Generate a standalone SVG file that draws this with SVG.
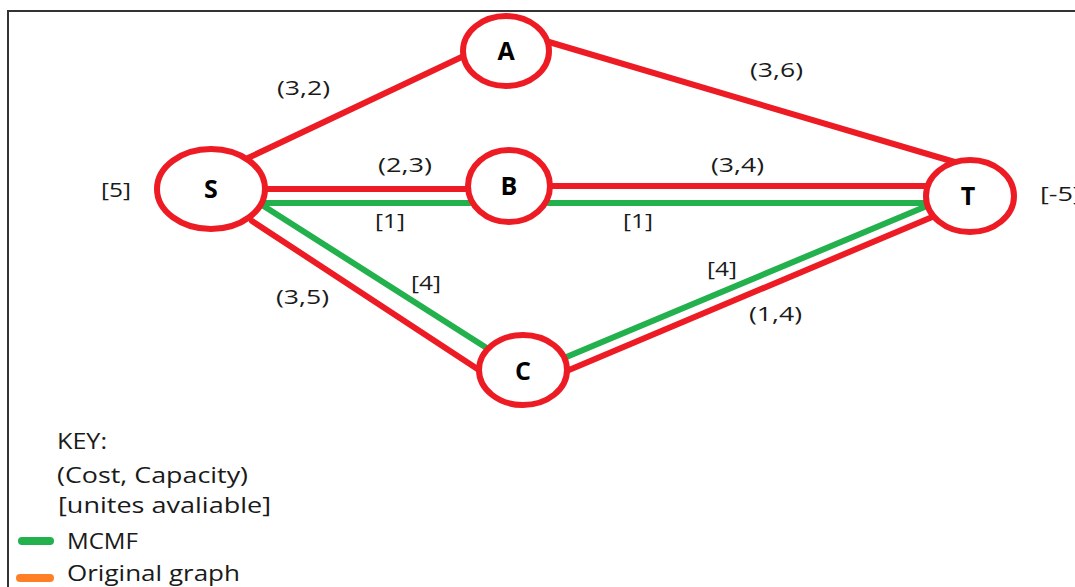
<svg xmlns="http://www.w3.org/2000/svg" width="1075" height="587" viewBox="0 0 1075 587">
<style>
.red{stroke:#ed1c24;stroke-width:6;fill:none;stroke-linecap:round}
.grn{stroke:#22b14c;stroke-width:6;fill:none;stroke-linecap:round}
.node{fill:#fff;stroke:#ed1c24;stroke-width:6}
.nl{font-family:"Open Sans","DejaVu Sans",sans-serif;font-weight:bold;font-size:25px;fill:#000;text-anchor:middle}
.lbl{font-family:"Open Sans","DejaVu Sans",sans-serif;font-size:20px;fill:#1a1a1a}
.key{font-family:"Open Sans","DejaVu Sans",sans-serif;font-size:22px;fill:#1a1a1a}
</style>
<rect x="0" y="0" width="1075" height="587" fill="#fff"/>
<path d="M8,590 V11 H1080" fill="none" stroke="#333" stroke-width="2"/>
<g id="connectors">
<line class="red" x1="248" y1="158" x2="468" y2="54"/>
<line class="red" x1="549" y1="42" x2="958" y2="163"/>
<line class="red" x1="264" y1="189" x2="468" y2="189"/>
<line class="red" x1="550" y1="186" x2="928" y2="186"/>
<line class="grn" x1="262" y1="203" x2="470" y2="203"/>
<line class="grn" x1="548" y1="203" x2="934" y2="203"/>
<line class="red" x1="252" y1="221" x2="479" y2="370"/>
<line class="grn" x1="262" y1="205" x2="493" y2="352"/>
<line class="grn" x1="564" y1="358" x2="934" y2="203"/>
<line class="red" x1="569" y1="370" x2="937" y2="215"/>
</g>
<g id="node-S"><ellipse class="node" cx="211" cy="189" rx="54" ry="40"/><text class="nl" x="211" y="198">S</text></g>
<g id="node-A"><ellipse class="node" cx="506" cy="51" rx="43" ry="35"/><text class="nl" x="506" y="60">A</text></g>
<g id="node-B"><ellipse class="node" cx="509" cy="186" rx="41" ry="36"/><text class="nl" x="509" y="195">B</text></g>
<g id="node-T"><ellipse class="node" cx="970" cy="196" rx="44" ry="36"/><text class="nl" x="968" y="205">T</text></g>
<g id="node-C"><ellipse class="node" cx="523" cy="370" rx="44" ry="35"/><text class="nl" x="523" y="380">C</text></g>
<g id="labels">
<text class="lbl" x="277" y="95" textLength="53" lengthAdjust="spacingAndGlyphs">(3,2)</text>
<text class="lbl" x="750" y="77" textLength="53" lengthAdjust="spacingAndGlyphs">(3,6)</text>
<text class="lbl" x="378" y="172" textLength="54" lengthAdjust="spacingAndGlyphs">(2,3)</text>
<text class="lbl" x="711" y="172" textLength="53" lengthAdjust="spacingAndGlyphs">(3,4)</text>
<text class="lbl" x="101" y="197" textLength="30" lengthAdjust="spacingAndGlyphs">[5]</text>
<text class="lbl" x="1040" y="201" textLength="42" lengthAdjust="spacingAndGlyphs">[-5]</text>
<text class="lbl" x="375" y="228" textLength="30" lengthAdjust="spacingAndGlyphs">[1]</text>
<text class="lbl" x="623" y="228" textLength="30" lengthAdjust="spacingAndGlyphs">[1]</text>
<text class="lbl" x="411" y="290" textLength="30" lengthAdjust="spacingAndGlyphs">[4]</text>
<text class="lbl" x="707" y="276" textLength="30" lengthAdjust="spacingAndGlyphs">[4]</text>
<text class="lbl" x="276" y="304" textLength="53" lengthAdjust="spacingAndGlyphs">(3,5)</text>
<text class="lbl" x="749" y="321" textLength="53" lengthAdjust="spacingAndGlyphs">(1,4)</text>
</g>
<g id="key">
<text class="key" x="57" y="449" textLength="50" lengthAdjust="spacingAndGlyphs">KEY:</text>
<text class="key" x="57" y="483" textLength="191" lengthAdjust="spacingAndGlyphs">(Cost, Capacity)</text>
<text class="key" x="58" y="513" textLength="213" lengthAdjust="spacingAndGlyphs">[unites avaliable]</text>
<line x1="22" y1="541" x2="50" y2="541" stroke="#22b14c" stroke-width="8" stroke-linecap="round"/>
<text class="key" x="67" y="549" textLength="71" lengthAdjust="spacingAndGlyphs">MCMF</text>
<line x1="20" y1="578" x2="50" y2="578" stroke="#ff7f27" stroke-width="8" stroke-linecap="round"/>
<text class="key" x="67" y="581" textLength="173" lengthAdjust="spacingAndGlyphs">Original graph</text>
</g>
</svg>
